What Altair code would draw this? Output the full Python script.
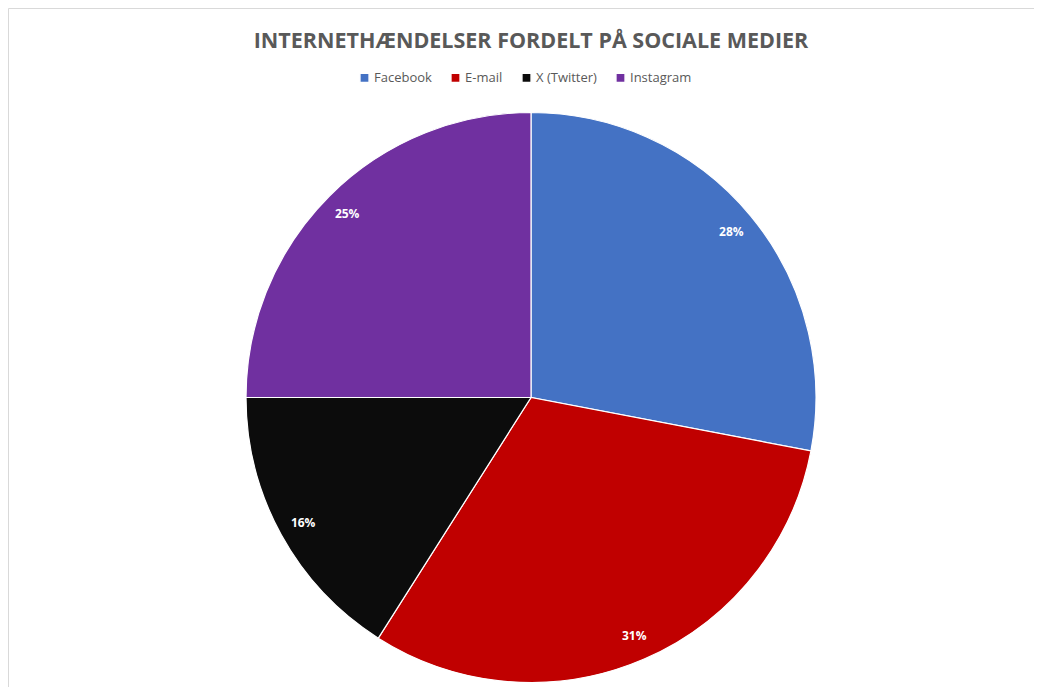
import altair as alt
import pandas as pd

categories = ["Facebook", "E-mail", "X (Twitter)", "Instagram"]
values = [28, 31, 16, 25]
labels = ["28%", "31%", "16%", "25%"]
colors = ["#4472C4", "#C00000", "#0C0C0C", "#7030A0"]
title_text = "INTERNETHÆNDELSER FORDELT PÅ SOCIALE MEDIER"

df = pd.DataFrame({"cat": categories, "val": values, "lab": labels, "ord": list(range(len(categories)))})

W, H = 1026, 679
CX, CY = 523, 389.5

base = alt.Chart(df).encode(
    theta=alt.Theta("val:Q", stack=True),
    order=alt.Order("ord:Q"),
)

pie = base.mark_arc(radius=285, stroke="white", strokeWidth=1.2, x=CX, y=CY).encode(
    color=alt.Color(
        "cat:N",
        scale=alt.Scale(domain=categories, range=colors),
        sort=categories,
        legend=alt.Legend(
            title=None, orient="none", direction="horizontal",
            legendX=350, legendY=63, symbolType="square", symbolSize=85,
            labelFont="Open Sans", labelFontSize=13, labelColor="#595959",
            columnPadding=15, symbolOffset=0, labelOffset=3,
        ),
    )
)

text = base.mark_text(radius=260, x=CX, y=CY, font="Open Sans", fontWeight="bold",
                      fontSize=12, color="white").encode(text="lab:N")

title = alt.Chart(pd.DataFrame({"t": [title_text]})).mark_text(
    font="Open Sans", fontWeight="bold", fontSize=21.5, color="#595959", align="center", baseline="middle"
).encode(text="t:N", x=alt.value(CX), y=alt.value(34))

chart = alt.layer(pie, text, title).properties(
    width=W, height=H, autosize=alt.AutoSizeParams(type="none"), padding=0
).configure_view(stroke="#D9D9D9", strokeWidth=1)

chart.save("out.html", embed_options={"renderer": "svg", "actions": False})
